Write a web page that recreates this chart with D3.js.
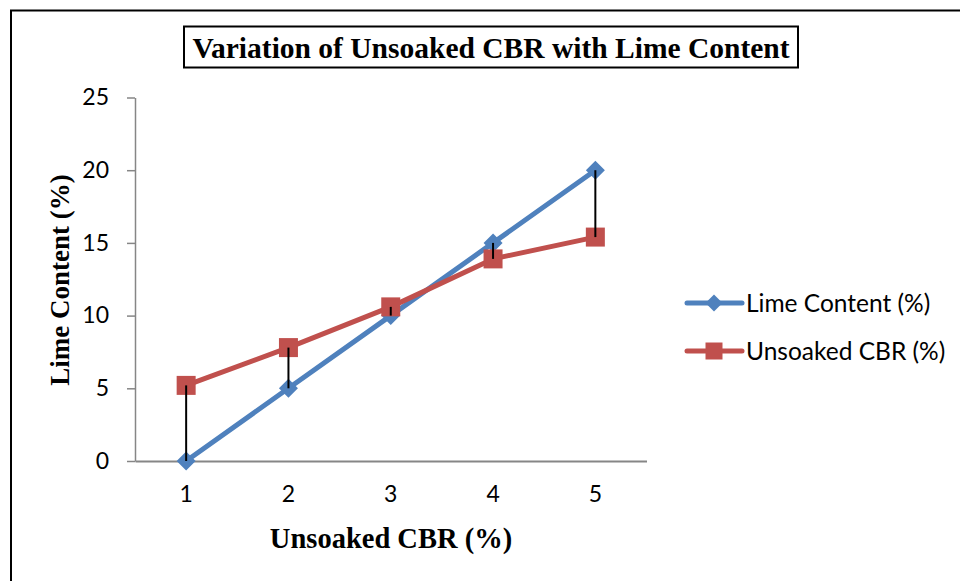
<!DOCTYPE html>
<html lang="en">
<head>
    <meta charset="UTF-8">
    <title>Variation of Unsoaked CBR with Lime Content</title>
    <script src="https://d3js.org/d3.v7.min.js"></script>
    <style>
        body { margin: 0; background: #fff; }
        .tick text { font-family: Lato, "Open Sans", sans-serif; font-size: 23px; fill: #000; }
        .serif { font-family: "Liberation Serif", "Times New Roman", serif; font-weight: bold; }
    </style>
</head>
<body>
    <svg width="960" height="581"></svg>

    <script>
        // données
        var categories = ['1', '2', '3', '4', '5'];
        var limeContent = [0, 5, 10, 15, 20];
        var unsoakedCBR = [5.2, 7.8, 10.6, 13.9, 15.4];
        var yTicks = [0, 5, 10, 15, 20, 25];
        var seriesNames = ['Lime Content (%)', 'Unsoaked CBR (%)'];

        var svg = d3.select('svg');

        // cadre extérieur
        svg.append('path')
            .attr('d', 'M11,581 V10.5 H960')
            .attr('fill', 'none')
            .attr('stroke', '#000')
            .attr('stroke-width', 2);

        var x = d3.scaleBand().domain(categories).range([135, 646.5]);
        var y = d3.scaleLinear().domain([0, 25]).range([461, 97.5]);
        var cx = function(d, i) { return x(categories[i]) + x.bandwidth() / 2; };

        // axes
        var yAxis = svg.append('g')
            .attr('transform', 'translate(135,0)')
            .call(d3.axisLeft(y).tickValues(yTicks).tickSize(8).tickPadding(18).tickSizeOuter(0));
        yAxis.selectAll('line, path').attr('stroke', '#868686').attr('stroke-width', 1.5);

        var xAxis = svg.append('g')
            .attr('transform', 'translate(0,461)')
            .call(d3.axisBottom(x).tickSize(0).tickPadding(25).tickSizeOuter(0));
        xAxis.select('path').attr('stroke', '#868686').attr('stroke-width', 2);

        // séries
        var series = [
            { name: seriesNames[0], values: limeContent, color: '#4F81BD', symbol: 'diamond' },
            { name: seriesNames[1], values: unsoakedCBR, color: '#C0504D', symbol: 'square' }
        ];

        var line = d3.line()
            .x(cx)
            .y(function(d) { return y(d); });

        series.forEach(function(s) {
            svg.append('path')
                .datum(s.values)
                .attr('d', line)
                .attr('fill', 'none')
                .attr('stroke', s.color)
                .attr('stroke-width', 5)
                .attr('stroke-linejoin', 'round');
        });

        function marker(sel, s, size) {
            var area = s.symbol === 'diamond' ? size * 0.5 : size;
            sel.attr('d', d3.symbol().type(d3.symbolSquare).size(area))
                .attr('fill', s.color);
        }

        series.forEach(function(s) {
            svg.selectAll(null)
                .data(s.values)
                .enter().append('path')
                .call(marker, s, 361)
                .attr('transform', function(d, i) {
                    return 'translate(' + cx(d, i) + ',' + y(d) + ')' + (s.symbol === 'diamond' ? ' rotate(45)' : '');
                });
        });

        // lignes haut-bas
        svg.selectAll(null)
            .data(categories)
            .enter().append('line')
            .attr('x1', function(d, i) { return cx(d, i); })
            .attr('x2', function(d, i) { return cx(d, i); })
            .attr('y1', function(d, i) { return y(limeContent[i]); })
            .attr('y2', function(d, i) { return y(unsoakedCBR[i]); })
            .attr('stroke', '#000')
            .attr('stroke-width', 2);

        // titre
        svg.append('text')
            .attr('class', 'serif')
            .attr('x', 491)
            .attr('y', 58)
            .attr('text-anchor', 'middle')
            .attr('font-size', 29.5)
            .text('Variation of Unsoaked CBR with Lime Content');
        svg.append('rect')
            .attr('x', 184).attr('y', 26.5)
            .attr('width', 614).attr('height', 41)
            .attr('fill', 'none')
            .attr('stroke', '#000')
            .attr('stroke-width', 2);

        // titres des axes
        svg.append('text')
            .attr('class', 'serif')
            .attr('x', 391)
            .attr('y', 548)
            .attr('text-anchor', 'middle')
            .attr('font-size', 28.5)
            .text('Unsoaked CBR (%)');
        svg.append('text')
            .attr('class', 'serif')
            .attr('transform', 'translate(69,280) rotate(-90)')
            .attr('text-anchor', 'middle')
            .attr('font-size', 27)
            .text('Lime Content (%)');

        // légende
        var legend = svg.append('g');
        series.forEach(function(s, i) {
            var g = legend.append('g').attr('transform', 'translate(0,' + (303 + i * 48) + ')');
            g.append('line')
                .attr('x1', 687).attr('x2', 742)
                .attr('stroke', s.color)
                .attr('stroke-width', 5)
                .attr('stroke-linecap', 'round');
            g.append('path')
                .call(marker, s, 289)
                .attr('transform', 'translate(714,0)' + (s.symbol === 'diamond' ? ' rotate(45)' : ''));
            g.append('text')
                .attr('x', 746)
                .attr('y', 9)
                .attr('font-family', 'Lato, "Open Sans", sans-serif')
                .attr('font-size', 24.5)
                .text(s.name);
        });
    </script>
</body>
</html>
